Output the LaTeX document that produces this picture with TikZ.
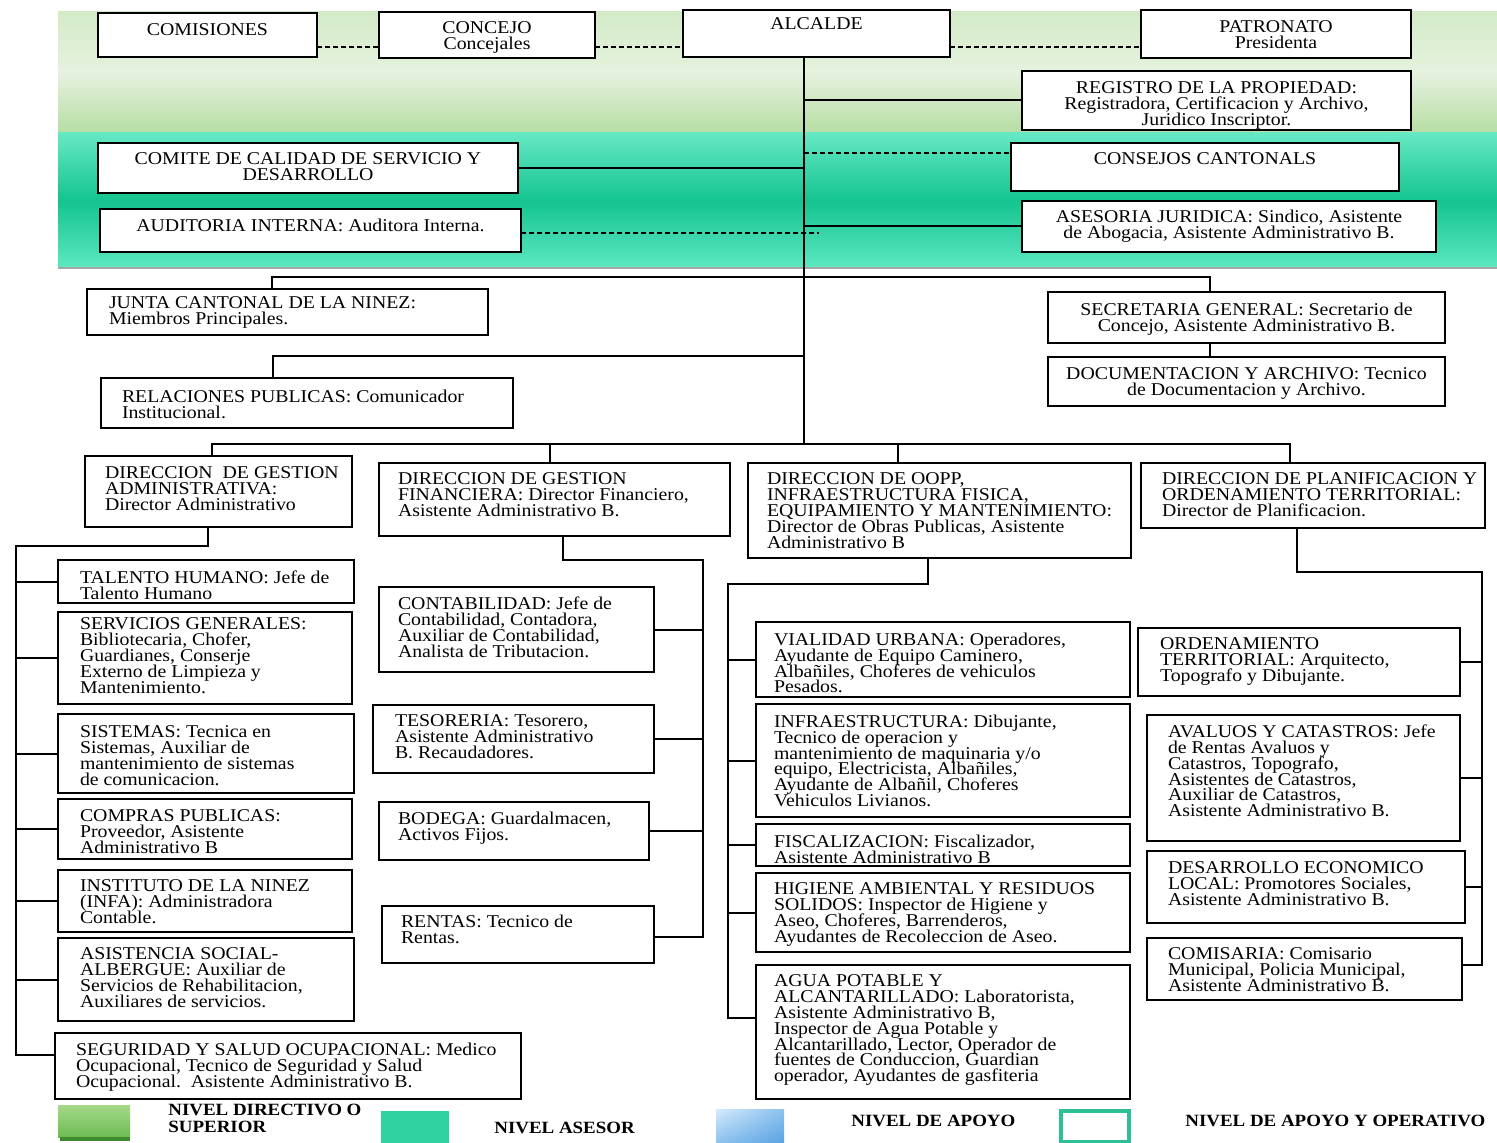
\documentclass[tikz,border=0pt]{standalone}
\usepackage{fontspec}
\setmainfont{Liberation Serif}[FakeStretch=1.1]
\usetikzlibrary{calc,shadings}
\definecolor{grtop}{HTML}{D3EAC7}
\definecolor{grmid}{HTML}{E6F2DF}
\definecolor{grbot}{HTML}{B6DDA3}
\definecolor{tltop}{HTML}{66E8C5}
\definecolor{tlmid}{HTML}{14C48F}
\definecolor{tlbot}{HTML}{5DE8C2}
\definecolor{lggreenA}{HTML}{A5D98B}
\definecolor{lggreenB}{HTML}{6DBB52}
\definecolor{lggreenC}{HTML}{3F8A30}
\definecolor{lgteal}{HTML}{2FD3A0}
\definecolor{lgblueA}{HTML}{D6EAFA}
\definecolor{lgblueB}{HTML}{8CC2EF}
\definecolor{lgblueC}{HTML}{5AA2E2}
\definecolor{lgout}{HTML}{2DBF96}
\newdimen\orgpad
\newcommand\bxfont{\fontsize{9}{7.9}\selectfont}
\newcommand\orgL[1]{\par\noindent\makebox[\linewidth][l]{\hspace*{\orgpad}#1}}
\newcommand\orgC[1]{\par\noindent\makebox[\linewidth][c]{#1}}
\newcommand\orgbox[8]{\orgpad=\dimexpr #6pt/2\relax
  \node[obox, anchor=north west] (#1) at (#2,#3) {\parbox[c][\dimexpr #5pt/2-#3pt/2\relax][t]{\dimexpr #4pt/2-#2pt/2\relax}{\bxfont\lineskiplimit=-20pt\vspace*{\dimexpr #7pt/2\relax}#8}};}
\tikzset{
  obox/.style={draw, line width=1pt, fill=white, inner sep=0pt, outer sep=0pt},
  ln/.style={line width=1pt},
  dashln/.style={line width=0.75pt, dash pattern=on 2.5pt off 1.5pt},
  legtxt/.style={font=\fontsize{8.6}{8.4}\selectfont\bfseries, inner sep=0pt, align=left}
}
\begin{document}
\begin{tikzpicture}[x=0.5pt, y=-0.5pt]
\useasboundingbox (0,0) rectangle (1497,1143);
\fill[white] (0,0) rectangle (1497,1143);
% bands
\shade[top color=grtop, bottom color=grbot, middle color=grmid] (58,12) rectangle (1497,133);
\shade[top color=tltop, bottom color=tlbot, middle color=tlmid] (58,133) rectangle (1497,268);
\draw[black!35, line width=1pt] (58,268.5) -- (1497,268.5);
% top level
\orgbox{com}{98}{13}{317}{57}{0}{11}{\orgC{COMISIONES}}
\orgbox{conc}{379}{12}{595}{58}{0}{10}{\orgC{CONCEJO}\orgC{Concejales}}
\orgbox{alc}{683}{10}{950}{57}{0}{8}{\orgC{ALCALDE}}
\orgbox{pat}{1141}{10}{1411}{58}{0}{11}{\orgC{PATRONATO}\orgC{Presidenta}}
\orgbox{reg}{1022}{71}{1411}{130}{0}{11}{\orgC{REGISTRO DE LA PROPIEDAD:}\orgC{Registradora, Certificacion y Archivo,}\orgC{Juridico Inscriptor.}}
\orgbox{cal}{98}{143}{518}{193}{0}{10}{\orgC{COMITE DE CALIDAD DE SERVICIO Y}\orgC{DESARROLLO}}
\orgbox{aud}{100}{209}{521}{252}{0}{10}{\orgC{AUDITORIA INTERNA: Auditora Interna.}}
\orgbox{cons}{1011}{143}{1399}{191}{0}{10}{\orgC{CONSEJOS CANTONALS}}
\orgbox{ase}{1022}{201}{1436}{252}{0}{9}{\orgC{ASESORIA JURIDICA: Sindico, Asistente}\orgC{de Abogacia, Asistente Administrativo B.}}
% second level
\orgbox{jun}{87}{289}{488}{335}{22}{8}{\orgL{JUNTA CANTONAL DE LA NINEZ:}\orgL{Miembros Principales.}}
\orgbox{sec}{1048}{292}{1445}{343}{0}{11}{\orgC{SECRETARIA GENERAL: Secretario de}\orgC{Concejo, Asistente Administrativo B.}}
\orgbox{doc}{1048}{357}{1445}{406}{0}{11}{\orgC{DOCUMENTACION Y ARCHIVO: Tecnico}\orgC{de Documentacion y Archivo.}}
\orgbox{rel}{101}{378}{513}{428}{21}{12}{\orgL{RELACIONES PUBLICAS: Comunicador}\orgL{Institucional.}}
% directions
\orgbox{dga}{85}{456}{352}{527}{20}{11}{\orgL{DIRECCION\ \ DE GESTION}\orgL{ADMINISTRATIVA:}\orgL{Director Administrativo}}
\orgbox{dgf}{379}{463}{730}{536}{19}{10}{\orgL{DIRECCION DE GESTION}\orgL{FINANCIERA: Director Financiero,}\orgL{Asistente Administrativo B.}}
\orgbox{oop}{748}{463}{1131}{558}{19}{10}{\orgL{DIRECCION DE OOPP,}\orgL{INFRAESTRUCTURA FISICA,}\orgL{EQUIPAMIENTO Y MANTENIMIENTO:}\orgL{Director de Obras Publicas, Asistente}\orgL{Administrativo B}}
\orgbox{dpo}{1141}{463}{1485}{528}{21}{10}{\orgL{DIRECCION DE PLANIFICACION Y}\orgL{ORDENAMIENTO TERRITORIAL:}\orgL{Director de Planificacion.}}
% column 1
\orgbox{tal}{58}{560}{354}{603}{22}{11}{\orgL{TALENTO HUMANO: Jefe de}\orgL{Talento Humano}}
\orgbox{ser}{58}{612}{352}{704}{22}{6}{\orgL{SERVICIOS GENERALES:}\orgL{Bibliotecaria, Chofer,}\orgL{Guardianes, Conserje}\orgL{Externo de Limpieza y}\orgL{Mantenimiento.}}
\orgbox{sis}{58}{714}{354}{793}{22}{12}{\orgL{SISTEMAS: Tecnica en}\orgL{Sistemas, Auxiliar de}\orgL{mantenimiento de sistemas}\orgL{de comunicacion.}}
\orgbox{cmp}{58}{799}{352}{859}{22}{11}{\orgL{COMPRAS PUBLICAS:}\orgL{Proveedor, Asistente}\orgL{Administrativo B}}
\orgbox{ins}{58}{870}{352}{932}{22}{10}{\orgL{INSTITUTO DE LA NINEZ}\orgL{(INFA): Administradora}\orgL{Contable.}}
\orgbox{asi}{58}{938}{354}{1021}{22}{10}{\orgL{ASISTENCIA SOCIAL-}\orgL{ALBERGUE: Auxiliar de}\orgL{Servicios de Rehabilitacion,}\orgL{Auxiliares de servicios.}}
\orgbox{seg}{55}{1033}{521}{1099}{21}{10}{\orgL{SEGURIDAD Y SALUD OCUPACIONAL: Medico}\orgL{Ocupacional, Tecnico de Seguridad y Salud}\orgL{Ocupacional.\ \ Asistente Administrativo B.}}
% column 2
\orgbox{cont}{379}{587}{654}{672}{19}{10}{\orgL{CONTABILIDAD: Jefe de}\orgL{Contabilidad, Contadora,}\orgL{Auxiliar de Contabilidad,}\orgL{Analista de Tributacion.}}
\orgbox{tes}{373}{705}{654}{773}{22}{10}{\orgL{TESORERIA: Tesorero,}\orgL{Asistente Administrativo}\orgL{B. Recaudadores.}}
\orgbox{bod}{379}{802}{649}{860}{19}{10}{\orgL{BODEGA: Guardalmacen,}\orgL{Activos Fijos.}}
\orgbox{ren}{382}{906}{654}{963}{19}{9}{\orgL{RENTAS: Tecnico de}\orgL{Rentas.}}
% column 3
\orgbox{via}{756}{622}{1130}{697}{18}{11}{\orgL{VIALIDAD URBANA: Operadores,}\orgL{Ayudante de Equipo Caminero,}\orgL{Albañiles, Choferes de vehiculos}\orgL{Pesados.}}
\orgbox{inf}{756}{704}{1130}{817}{18}{11}{\orgL{INFRAESTRUCTURA: Dibujante,}\orgL{Tecnico de operacion y}\orgL{mantenimiento de maquinaria y/o}\orgL{equipo, Electricista, Albañiles,}\orgL{Ayudante de Albañil, Choferes}\orgL{Vehiculos Livianos.}}
\orgbox{fis}{756}{824}{1130}{866}{18}{11}{\orgL{FISCALIZACION: Fiscalizador,}\orgL{Asistente Administrativo B}}
\orgbox{hig}{756}{873}{1130}{952}{18}{10}{\orgL{HIGIENE AMBIENTAL Y RESIDUOS}\orgL{SOLIDOS: Inspector de Higiene y}\orgL{Aseo, Choferes, Barrenderos,}\orgL{Ayudantes de Recoleccion de Aseo.}}
\orgbox{agu}{756}{965}{1130}{1099}{18}{10}{\orgL{AGUA POTABLE Y}\orgL{ALCANTARILLADO: Laboratorista,}\orgL{Asistente Administrativo B,}\orgL{Inspector de Agua Potable y}\orgL{Alcantarillado, Lector, Operador de}\orgL{fuentes de Conduccion, Guardian}\orgL{operador, Ayudantes de gasfiteria}}
% column 4
\orgbox{ord}{1138}{628}{1460}{696}{22}{10}{\orgL{ORDENAMIENTO}\orgL{TERRITORIAL: Arquitecto,}\orgL{Topografo y Dibujante.}}
\orgbox{ava}{1147}{715}{1460}{841}{21}{10}{\orgL{AVALUOS Y CATASTROS: Jefe}\orgL{de Rentas Avaluos y}\orgL{Catastros, Topografo,}\orgL{Asistentes de Catastros,}\orgL{Auxiliar de Catastros,}\orgL{Asistente Administrativo B.}}
\orgbox{des}{1147}{851}{1465}{923}{21}{11}{\orgL{DESARROLLO ECONOMICO}\orgL{LOCAL: Promotores Sociales,}\orgL{Asistente Administrativo B.}}
\orgbox{cmi}{1147}{938}{1462}{1000}{21}{10}{\orgL{COMISARIA: Comisario}\orgL{Municipal, Policia Municipal,}\orgL{Asistente Administrativo B.}}
% connectors: top
\coordinate (ydash) at (0,47);
\draw[dashln] (com.east |- ydash) -- (conc.west |- ydash);
\draw[dashln] (conc.east |- ydash) -- (alc.west |- ydash);
\draw[dashln] (alc.east |- ydash) -- (pat.west |- ydash);
\coordinate (tb) at (804,444);
\draw[ln] (alc.south -| tb) -- (tb);
\draw[ln] (tb |- reg.west) -- (reg.west);
\draw[ln] (cal.east) -- (cal.east -| tb);
\coordinate (ycons) at (0,153);
\draw[dashln] (tb |- ycons) -- (cons.west |- ycons);
\coordinate (audend) at (819,233);
\draw[dashln] (aud.east |- audend) -- (audend);
\draw[ln] (tb |- ase.west) -- (ase.west);
% second level
\coordinate (ja) at (272,277);
\coordinate (jb) at (1210,277);
\draw[ln] (ja |- jun.north) -- (ja) -- (jb) -- (jb |- sec.north);
\draw[ln] (jb |- sec.south) -- (jb |- doc.north);
\coordinate (ra) at (273,356);
\draw[ln] (tb |- ra) -- (ra) -- (ra |- rel.north);
% directions bar
\coordinate (da) at (212,444);
\coordinate (db) at (550,444);
\coordinate (dc) at (898,444);
\coordinate (dd) at (1290,444);
\draw[ln] (da |- dga.north) -- (da) -- (dd) -- (dd |- dpo.north);
\draw[ln] (db) -- (db |- dgf.north);
\draw[ln] (dc) -- (dc |- oop.north);
% column 1
\coordinate (aa) at (208,546);
\coordinate (ab) at (16,546);
\coordinate (ac) at (16,1055);
\draw[ln] (aa |- dga.south) -- (aa) -- (ab) -- (ac) -- (ac -| seg.west);
\foreach \n in {tal,ser,sis,cmp,ins,asi} \draw[ln] (ab |- \n.west) -- (\n.west);
% column 2
\coordinate (fa) at (563,560);
\coordinate (fb) at (703,560);
\coordinate (fc) at (703,937);
\draw[ln] (fa |- dgf.south) -- (fa) -- (fb) -- (fc) -- (fc -| ren.east);
\foreach \n in {cont,tes,bod} \draw[ln] (\n.east) -- (\n.east -| fb);
% column 3
\coordinate (oa) at (928,584);
\coordinate (ob) at (728,584);
\coordinate (oc) at (728,1018);
\draw[ln] (oa |- oop.south) -- (oa) -- (ob) -- (oc) -- (oc -| agu.west);
\foreach \n in {via,inf,fis,hig} \draw[ln] (ob |- \n.west) -- (\n.west);
% column 4
\coordinate (pa) at (1297,572);
\coordinate (pb) at (1482,572);
\coordinate (pc) at (1482,965);
\draw[ln] (pa |- dpo.south) -- (pa) -- (pb) -- (pc) -- (pc -| cmi.east);
\foreach \n in {ord,ava,des} \draw[ln] (\n.east) -- (\n.east -| pb);
% legend
\shade[top color=lggreenA, bottom color=lggreenB] (58,1105) rectangle (130,1137);
\fill[lggreenC] (60,1137) rectangle (130,1141);
\fill[lgteal] (381,1111) rectangle (449,1143);
\shade[upper left=lgblueA, upper right=lgblueB, lower left=lgblueB, lower right=lgblueC] (716,1109) rectangle (784,1143);
\draw[draw=lgout, line width=1.6pt, fill=white] (1061,1111) rectangle (1129,1142);
\node[legtxt, anchor=north west] (lg1) at (168,1104) {NIVEL DIRECTIVO O\\SUPERIOR};
\node[legtxt, anchor=west] (lg2) at (494,1128) {NIVEL ASESOR};
\node[legtxt, anchor=west] (lg3) at (851,1121) {NIVEL DE APOYO};
\node[legtxt, anchor=west] (lg4) at (1185,1121) {NIVEL DE APOYO Y OPERATIVO};
\end{tikzpicture}
\end{document}
